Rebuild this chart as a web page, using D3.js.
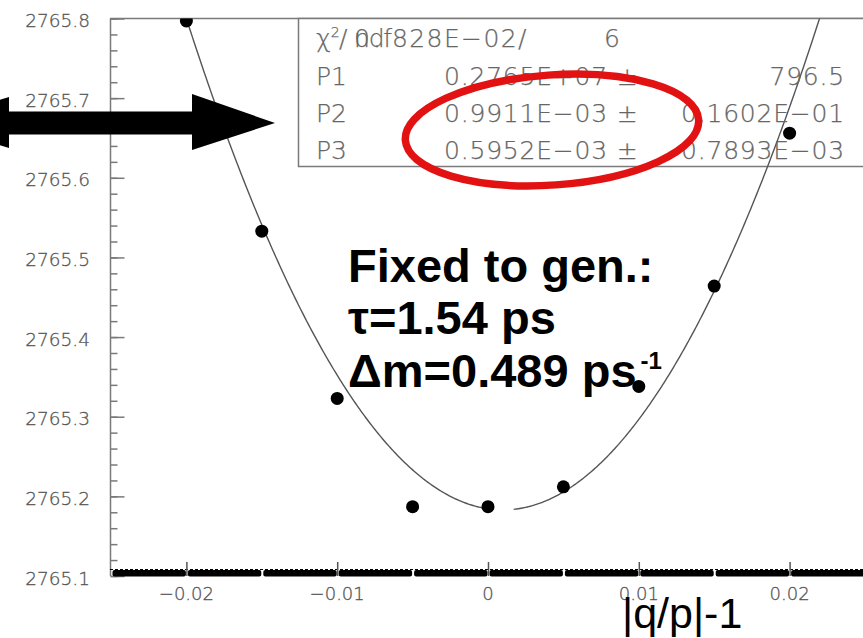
<!DOCTYPE html>
<html>
<head>
<meta charset="utf-8">
<script src="https://cdn.jsdelivr.net/npm/d3@7"></script>
<style>
  html, body { margin: 0; padding: 0; background: #fff; overflow: hidden; }
  svg { display: block; }
</style>
</head>
<body>
<svg id="chart" width="863" height="638"></svg>
<script>
// ---- data ----
const xDomain = [-0.025, 0.025];
const yDomain = [2765.1, 2765.8];
const xTickValues = [-0.02, -0.01, 0, 0.01, 0.02];
const xTickLabels = ["\u22120.02", "\u22120.01", "0", "0.01", "0.02"];
const yTickValues = [2765.1, 2765.2, 2765.3, 2765.4, 2765.5, 2765.6, 2765.7, 2765.8];
const yTickLabels = ["2765.1", "2765.2", "2765.3", "2765.4", "2765.5", "2765.6", "2765.7", "2765.8"];

// scan points: |q/p|-1 vs. -log L
const scanX = [-0.02, -0.015, -0.01, -0.005, 0, 0.005, 0.01, 0.015, 0.02];
const scanY = [2765.797, 2765.533, 2765.323, 2765.187, 2765.187, 2765.212, 2765.338, 2765.464, 2765.656];

// parabolic fit: minimum value, position of minimum, curvature
const fitMin = 2765.183;
const fitCenter = 0.0009911;
const fitCurvature = 1400;
// the fitted line is drawn in two pieces, broken around the minimum
const fitPieces = [[-0.025, -0.0003], [0.0017, 0.025]];

// fit statistics box
const statNames = ["P1", "P2", "P3"];
const statValues = ["0.2765E+07", "0.9911E\u221203", "0.5952E\u221203"];
const statErrors = ["796.5", "0.1602E\u221201", "0.7893E\u221203"];
const chiValue = ["0", ".", "828E\u221202/"];
const ndfValue = "6";

// annotation
const noteLines = ["Fixed to gen.:", "\u03c4=1.54 ps", "\u0394m=0.489 ps"];
const noteSup = "-1";
const xTitle = "|q/p|-1";

// ---- drawing ----
const svg = d3.select("#chart");
const x = d3.scaleLinear().domain(xDomain).range([111, 865]);
const y = d3.scaleLinear().domain(yDomain).range([576, 18.5]);
const axisGrey = "#7a7a7a";
const textGrey = "#555";

svg.append("defs").append("clipPath").attr("id", "plotArea")
  .append("rect").attr("x", 110).attr("y", y(yDomain[1])).attr("width", 760).attr("height", y(yDomain[0]) - y(yDomain[1]) + 2);

// frame: left and top
svg.append("line").attr("x1", 110.5).attr("x2", 110.5).attr("y1", y(yDomain[1])).attr("y2", y(yDomain[0]))
  .attr("stroke", axisGrey).attr("stroke-width", 1.5);
svg.append("line").attr("x1", 110).attr("x2", 863).attr("y1", y(yDomain[1])).attr("y2", y(yDomain[1]))
  .attr("stroke", axisGrey).attr("stroke-width", 1.5);

// left axis ticks (inside the frame)
const minorY = d3.range(0, 36).map(i => yDomain[0] + i * 0.02);
const yMinor = svg.append("g").attr("transform", "translate(110.5,0)")
  .call(d3.axisRight(y).tickValues(minorY).tickSize(7).tickFormat(""));
const yMajor = svg.append("g").attr("transform", "translate(110.5,0)")
  .call(d3.axisRight(y).tickValues(yTickValues).tickSize(14).tickFormat(""));
[yMinor, yMajor].forEach(g => {
  g.select(".domain").remove();
  g.selectAll(".tick line").attr("stroke", axisGrey).attr("stroke-width", 1.5);
});
svg.append("g").selectAll("text").data(yTickValues).join("text")
  .attr("x", 90).attr("y", d => y(d) + 8.5)
  .attr("text-anchor", "end")
  .attr("font-family", "DejaVu Sans").attr("font-weight", 200).attr("font-size", 18.5)
  .attr("fill", textGrey).attr("stroke", textGrey).attr("stroke-width", 0.3)
  .text((d, i) => yTickLabels[i]);

// bottom axis: heavy band of fine ticks, broken every 0.005
const segEdges = d3.range(-0.025, 0.0251, 0.005);
const band = svg.append("g");
for (let i = 0; i < segEdges.length - 1; i++) {
  band.append("rect")
    .attr("x", x(segEdges[i]) + 1.5).attr("y", 570)
    .attr("width", x(segEdges[i + 1]) - x(segEdges[i]) - 2).attr("height", 6.5)
    .attr("rx", 2).attr("fill", "#000");
}
band.append("line").attr("x1", 110).attr("x2", 863).attr("y1", 569.5).attr("y2", 569.5)
  .attr("stroke", "#000").attr("stroke-width", 1.2).attr("stroke-dasharray", "3,2");
const xMajor = svg.append("g").attr("transform", "translate(0,576)")
  .call(d3.axisTop(x).tickValues(xTickValues).tickSize(14).tickFormat(""));
xMajor.select(".domain").remove();
xMajor.selectAll(".tick line").attr("stroke", "#555").attr("stroke-width", 1.5);
svg.append("g").selectAll("text").data(xTickValues).join("text")
  .attr("x", d => x(d)).attr("y", 600)
  .attr("text-anchor", "middle")
  .attr("font-family", "DejaVu Sans").attr("font-weight", 200).attr("font-size", 18)
  .attr("fill", textGrey).attr("stroke", textGrey).attr("stroke-width", 0.3)
  .text((d, i) => xTickLabels[i]);

// statistics box
svg.append("rect").attr("x", 298.5).attr("y", y(yDomain[1])).attr("width", 600).attr("height", 148)
  .attr("fill", "#fff").attr("stroke", axisGrey).attr("stroke-width", 1.5);

// fitted parabola
const fitFn = v => fitMin + fitCurvature * (v - fitCenter) * (v - fitCenter);
const fitLine = d3.line().x(d => x(d)).y(d => y(fitFn(d)));
const plotG = svg.append("g").attr("clip-path", "url(#plotArea)");
fitPieces.forEach(([a, b]) => {
  const xs = d3.range(a, b, 0.0001).concat([b]);
  plotG.append("path").attr("d", fitLine(xs))
    .attr("fill", "none").attr("stroke", "#555").attr("stroke-width", 1.4);
});

// scan points
plotG.append("g").selectAll("circle").data(scanX).join("circle")
  .attr("cx", d => x(d)).attr("cy", (d, i) => y(scanY[i]))
  .attr("r", 6.5).attr("fill", "#000");

// statistics text
const statFont = g => g.attr("font-family", "DejaVu Sans").attr("font-weight", 200)
  .attr("font-size", 25).attr("fill", "#666").attr("stroke", "#666").attr("stroke-width", 0.25);
const rowBase = [47, 85, 122, 159];
const chiText = svg.append("text").attr("y", rowBase[0]).call(statFont);
chiText.append("tspan").attr("x", 316).text("\u03c7");
chiText.append("tspan").attr("font-size", 14).attr("dy", -10).text("2");
chiText.append("tspan").attr("x", 339).attr("dy", 10).text("/");
chiText.append("tspan").attr("x", 354).attr("letter-spacing", -1.2).text("ndf");
// the fit quality value is printed over the "ndf" label
const chiVal = svg.append("text").attr("y", rowBase[0]).call(statFont);
chiVal.append("tspan").attr("x", 354).text(chiValue[0]);
chiVal.append("tspan").attr("x", 373).text(chiValue[1]);
chiVal.append("tspan").attr("x", 392).attr("letter-spacing", 1.4).text(chiValue[2]);
svg.append("text").attr("x", 604).attr("y", rowBase[0]).call(statFont).text(ndfValue);
statNames.forEach((n, i) => {
  svg.append("text").attr("x", 316).attr("y", rowBase[i + 1]).call(statFont).text(n);
  svg.append("text").attr("x", 444).attr("y", rowBase[i + 1]).call(statFont)
    .attr("letter-spacing", 0.8).text(statValues[i] + " \u00b1");
  svg.append("text").attr("x", 845).attr("y", rowBase[i + 1]).attr("text-anchor", "end").call(statFont)
    .attr("letter-spacing", 0.8).text(statErrors[i]);
});

// red marker ring around P2 and P3
svg.append("ellipse").attr("cx", 552).attr("cy", 130).attr("rx", 147).attr("ry", 55)
  .attr("transform", "rotate(-4,552,130)")
  .attr("fill", "none").attr("stroke", "#e31212").attr("stroke-width", 7.5);

// annotation text
const noteBase = [282, 334, 387];
noteLines.forEach((t, i) => {
  const tx = svg.append("text").attr("x", 348).attr("y", noteBase[i])
    .attr("font-family", "Liberation Sans, Arial, sans-serif").attr("font-weight", "bold")
    .attr("font-size", 47).attr("fill", "#000");
  tx.append("tspan").text(t);
  if (i === noteLines.length - 1) {
    tx.append("tspan").attr("font-size", 24).attr("dx", 4).attr("dy", -18).text(noteSup);
  }
});

// axis title
svg.append("text").attr("x", 622).attr("y", 628)
  .attr("font-family", "Liberation Sans, Arial, sans-serif").attr("font-size", 43)
  .attr("fill", "#000").text(xTitle);

// double-headed arrow
const arrowY = 123;
const arrowPts = [
  [-74, arrowY], [9, 97], [9, 111.5], [192, 111.5], [192, 94], [275, arrowY],
  [192, 150], [192, 134.5], [9, 134.5], [9, 148]
];
svg.append("polygon").attr("points", arrowPts.map(p => p.join(",")).join(" ")).attr("fill", "#000");
</script>
</body>
</html>
